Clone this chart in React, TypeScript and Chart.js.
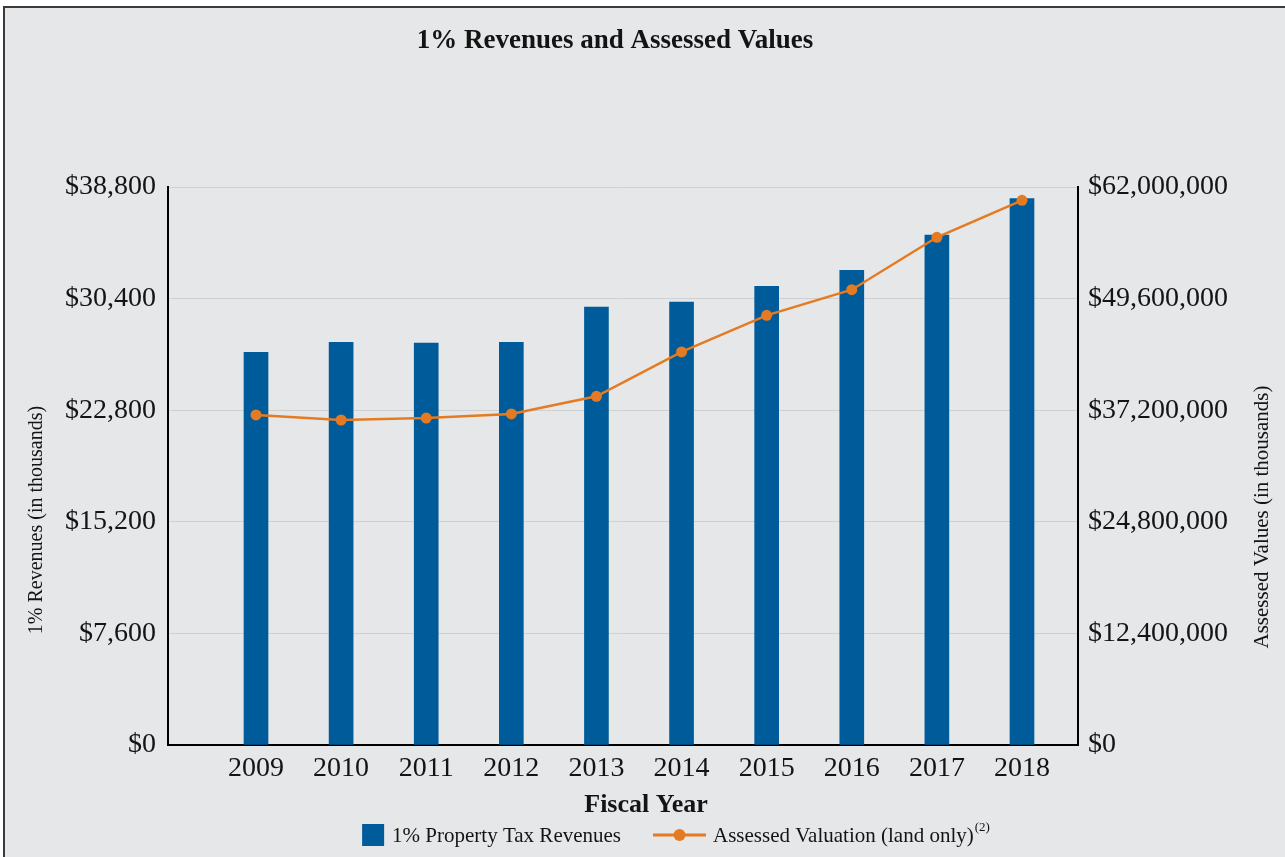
import React, { useEffect, useRef } from "react";
import { Chart, registerables } from "chart.js";

Chart.register(...registerables);

const years = [2009, 2010, 2011, 2012, 2013, 2014, 2015, 2016, 2017, 2018];
const revenues = [27300, 28000, 27950, 28000, 30450, 30800, 31900, 33000, 35450, 38000];
const assessed = [36670000, 36110000, 36330000, 36780000, 38740000, 43670000, 47740000, 50590000, 56410000, 60520000];
const leftTickLabels = ["$0", "$7,600", "$15,200", "$22,800", "$30,400", "$38,800"];
const leftMax = 38800;
const rightMax = 62000000;
const titleText = "1% Revenues and Assessed Values";
const xTitle = "Fiscal Year";
const leftTitle = "1% Revenues (in thousands)";
const rightTitle = "Assessed Values (in thousands)";
const seriesNames = ["1% Property Tax Revenues", "Assessed Valuation (land only)"];
const footnote = "(2)";

const BAR_COLOR = "#005B9B";
const LINE_COLOR = "#E47B22";
const TEXT_COLOR = "#141414";
const SERIF = "'Liberation Serif', 'DejaVu Serif', serif";

const W = 1285;
const H = 857;

const textPlugin = {
  id: "texts",
  afterDraw(chart: any) {
    const ctx = chart.ctx as CanvasRenderingContext2D;
    ctx.save();
    ctx.fillStyle = TEXT_COLOR;
    ctx.textAlign = "center";
    ctx.textBaseline = "middle";
    ctx.font = `bold 27px ${SERIF}`;
    ctx.fillText(titleText, 615, 41);
    ctx.font = `bold 26px ${SERIF}`;
    ctx.fillText(xTitle, 646, 805);

    ctx.font = `20px ${SERIF}`;
    ctx.save();
    ctx.translate(37, 520);
    ctx.rotate(-Math.PI / 2);
    ctx.fillText(leftTitle, 0, 0);
    ctx.restore();
    ctx.font = `21px ${SERIF}`;
    ctx.save();
    ctx.translate(1262, 517);
    ctx.rotate(-Math.PI / 2);
    ctx.fillText(rightTitle, 0, 0);
    ctx.restore();

    // legend
    const ly = 835;
    ctx.font = `21px ${SERIF}`;
    const t1 = ctx.measureText(seriesNames[0]).width;
    const t2 = ctx.measureText(seriesNames[1]).width;
    ctx.font = `13px ${SERIF}`;
    const t3 = ctx.measureText(footnote).width;
    const total = 22 + 8 + t1 + 32 + 53 + 7 + t2 + t3 + 1;
    let x = 676 - total / 2;
    ctx.fillStyle = BAR_COLOR;
    ctx.fillRect(x, ly - 11, 22, 22);
    x += 30;
    ctx.fillStyle = TEXT_COLOR;
    ctx.textAlign = "left";
    ctx.font = `21px ${SERIF}`;
    ctx.fillText(seriesNames[0], x, ly + 1);
    x += t1 + 32;
    ctx.strokeStyle = LINE_COLOR;
    ctx.lineWidth = 3;
    ctx.beginPath();
    ctx.moveTo(x, ly);
    ctx.lineTo(x + 53, ly);
    ctx.stroke();
    ctx.fillStyle = LINE_COLOR;
    ctx.beginPath();
    ctx.arc(x + 26.5, ly, 6, 0, Math.PI * 2);
    ctx.fill();
    x += 60;
    ctx.fillStyle = TEXT_COLOR;
    ctx.fillText(seriesNames[1], x, ly + 1);
    x += t2 + 1;
    ctx.font = `13px ${SERIF}`;
    ctx.fillText(footnote, x, ly - 7);
    ctx.restore();
  },
};

export default function App() {
  const ref = useRef<HTMLCanvasElement | null>(null);

  useEffect(() => {
    document.body.style.margin = "0";
    const canvas = ref.current;
    if (!canvas) return;
    const chart = new Chart(canvas, {
      type: "bar",
      data: {
        datasets: [
          {
            type: "line",
            label: seriesNames[1],
            data: years.map((y, i) => ({ x: y, y: assessed[i] })),
            yAxisID: "y2",
            xAxisID: "x",
            borderColor: LINE_COLOR,
            backgroundColor: LINE_COLOR,
            borderWidth: 2.5,
            pointRadius: 5.5,
            pointBorderWidth: 0,
            pointBackgroundColor: LINE_COLOR,
            tension: 0,
            order: 0,
          } as any,
          {
            type: "bar",
            label: seriesNames[0],
            data: years.map((y, i) => ({ x: y, y: revenues[i] })),
            yAxisID: "y",
            xAxisID: "x",
            backgroundColor: BAR_COLOR,
            barThickness: 24,
            order: 1,
          } as any,
        ],
      },
      options: {
        animation: false,
        responsive: false,
        maintainAspectRatio: false,
        layout: { padding: { top: 187, left: 0, right: 0, bottom: 0 } },
        plugins: {
          legend: { display: false },
          title: { display: false },
          tooltip: { enabled: false },
        },
        scales: {
          x: {
            type: "linear",
            position: "bottom",
            min: 2007.966,
            max: 2018.658,
            offset: false,
            afterBuildTicks: (axis: any) => {
              axis.ticks = years.map((v) => ({ value: v }));
            },
            afterFit: (s: any) => {
              s.height = H - 745;
            },
            grid: { display: false, drawTicks: false },
            border: { display: true, color: "#000", width: 2 },
            ticks: {
              autoSkip: false,
              maxRotation: 0,
              padding: 7,
              color: TEXT_COLOR,
              font: { family: SERIF, size: 28 },
              callback: (v: any) => String(v),
            },
          },
          y: {
            type: "linear",
            position: "left",
            min: 0,
            max: leftMax,
            afterFit: (s: any) => {
              s.width = 168;
            },
            grid: { color: "#cfd0d2", lineWidth: 1, drawTicks: false },
            border: { display: true, color: "#000", width: 2 },
            ticks: {
              stepSize: leftMax / 5,
              padding: 12,
              color: TEXT_COLOR,
              font: { family: SERIF, size: 28 },
              callback: (_v: any, i: number) => leftTickLabels[i],
            },
          },
          y2: {
            type: "linear",
            position: "right",
            min: 0,
            max: rightMax,
            afterFit: (s: any) => {
              s.width = W - 1078;
            },
            grid: { display: false, drawTicks: false },
            border: { display: true, color: "#000", width: 2 },
            ticks: {
              stepSize: rightMax / 5,
              padding: 10,
              color: TEXT_COLOR,
              font: { family: SERIF, size: 28 },
              callback: (v: any) => "$" + Number(v).toLocaleString("en-US"),
            },
          },
        },
      },
      plugins: [textPlugin],
    });
    return () => chart.destroy();
  }, []);

  return (
    <div style={{ position: "relative", width: W, height: H, background: "#fff", overflow: "hidden" }}>
      <div
        style={{
          position: "absolute",
          left: 3,
          top: 6,
          width: W,
          height: H,
          background: "#E6E7E8",
          borderTop: "2px solid #3a3a3a",
          borderLeft: "2px solid #3a3a3a",
        }}
      />
      <canvas ref={ref} width={W} height={H} style={{ position: "absolute", left: 0, top: 0, width: W, height: H }} />
    </div>
  );
}
